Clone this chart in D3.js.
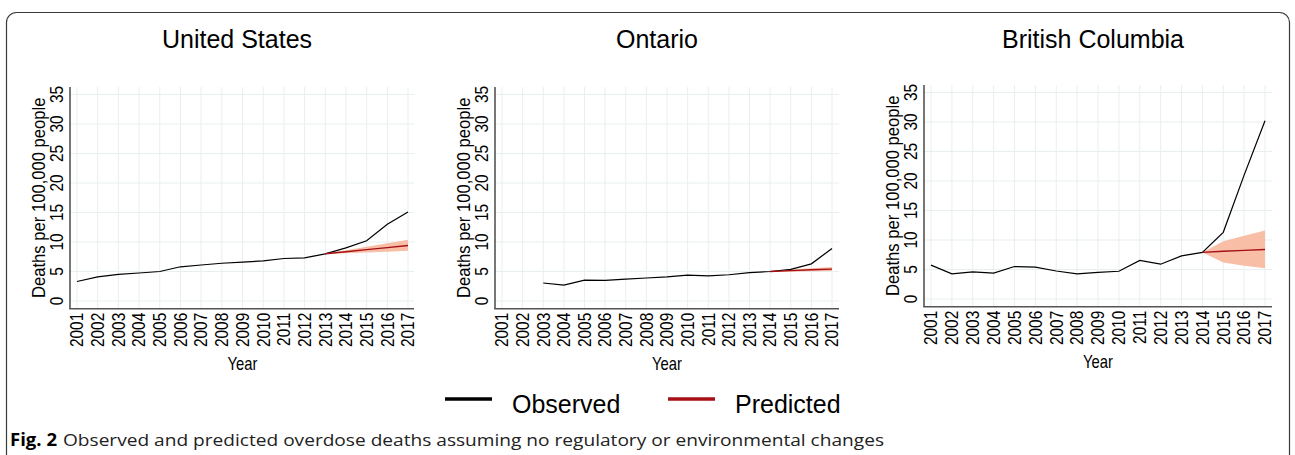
<!DOCTYPE html>
<html>
<head>
<meta charset="utf-8">
<script src="https://cdn.jsdelivr.net/npm/d3@7"></script>
<style>
  body { margin: 0; background: #fff; }
  svg { display: block; }
  text { font-family: "Liberation Sans", Arial, sans-serif; fill: #000; }
</style>
</head>
<body>
<div id="root"></div>
<script>
// data
const years = d3.range(2001, 2018)
const yTicks = [0, 5, 10, 15, 20, 25, 30, 35]

const usObserved = [3.3, 4.1, 4.5, 4.75, 5.0, 5.8, 6.1, 6.4, 6.6, 6.8, 7.2, 7.3, 8.0, 9.0, 10.2, 13.0, 15.1]
const usPredYears = [2013, 2014, 2015, 2016, 2017]
const usPredicted = [8.0, 8.35, 8.7, 9.05, 9.4]
const usUpper = [8.0, 8.6, 9.2, 9.8, 10.4]
const usLower = [8.0, 8.1, 8.2, 8.35, 8.5]

const onYears = d3.range(2003, 2018)
const onObserved = [3.05, 2.7, 3.55, 3.5, 3.7, 3.9, 4.1, 4.4, 4.25, 4.45, 4.8, 5.0, 5.35, 6.3, 8.9]
const onPredYears = [2014, 2015, 2016, 2017]
const onPredicted = [5.0, 5.15, 5.3, 5.4]
const onUpper = [5.0, 5.35, 5.55, 5.75]
const onLower = [5.0, 4.95, 5.05, 5.1]

const bcObserved = [5.75, 4.25, 4.6, 4.4, 5.5, 5.4, 4.75, 4.25, 4.5, 4.7, 6.55, 5.9, 7.3, 7.9, 11.3, 21.0, 30.2]
const bcPredYears = [2014, 2015, 2016, 2017]
const bcPredicted = [7.9, 8.1, 8.25, 8.4]
const bcUpper = [7.9, 9.8, 10.7, 11.6]
const bcLower = [7.9, 6.2, 5.65, 5.2]

const titles = ["United States", "Ontario", "British Columbia"]
const legendLabels = ["Observed", "Predicted"]

const OBS = "#000000"
const PRED = "#a50f15"
const BAND = "#f9bea6"
const GRID = "#e7eff1"
const AXIS = "#555555"

const series = [
  { obsYears: years, obs: usObserved, predYears: usPredYears, pred: usPredicted, hi: usUpper, lo: usLower },
  { obsYears: onYears, obs: onObserved, predYears: onPredYears, pred: onPredicted, hi: onUpper, lo: onLower },
  { obsYears: years, obs: bcObserved, predYears: bcPredYears, pred: bcPredicted, hi: bcUpper, lo: bcLower },
]

// layout per panel
const panels = [
  { axisX: 70, x0: 77, x1: 408, xEnd: 414, y0: 301, y35: 94.5, axisY: 308.7, top: 87, titleX: 237 },
  { axisX: 495, x0: 502, x1: 832, xEnd: 839, y0: 301, y35: 94.5, axisY: 308.7, top: 87, titleX: 657 },
  { axisX: 924, x0: 931, x1: 1265, xEnd: 1272, y0: 299, y35: 92.5, axisY: 306.7, top: 85, titleX: 1093 },
]

const width = 1295
const height = 455

const svg = d3.select("#root").append("svg")
  .attr("width", width)
  .attr("height", height)

// outer frame with rounded corners
svg.append("rect")
  .attr("x", 6.5)
  .attr("y", 12.5)
  .attr("width", 1283)
  .attr("height", 470)
  .attr("rx", 10)
  .attr("fill", "none")
  .attr("stroke", "#3a3a3a")
  .attr("stroke-width", 1.2)

panels.forEach((p, i) => {
  const s = series[i]
  const g = svg.append("g")

  const xScale = d3.scaleLinear().domain([2001, 2017]).range([p.x0, p.x1])
  const yScale = d3.scaleLinear().domain([0, 35]).range([p.y0, p.y35])

  // grid
  g.append("g").selectAll("line")
    .data(years)
    .join("line")
    .attr("x1", d => xScale(d)).attr("x2", d => xScale(d))
    .attr("y1", p.axisY).attr("y2", p.top)
    .attr("stroke", GRID).attr("stroke-width", 1)
  g.append("g").selectAll("line")
    .data(yTicks)
    .join("line")
    .attr("x1", p.axisX).attr("x2", p.xEnd)
    .attr("y1", d => yScale(d)).attr("y2", d => yScale(d))
    .attr("stroke", GRID).attr("stroke-width", 1)

  // confidence band + lines
  const band = d3.area()
    .x((d, j) => xScale(s.predYears[j]))
    .y0((d, j) => yScale(s.lo[j]))
    .y1((d, j) => yScale(s.hi[j]))
  g.append("path")
    .attr("d", band(s.pred))
    .attr("fill", BAND)

  const line = d3.line()
    .x(d => xScale(d[0]))
    .y(d => yScale(d[1]))
  g.append("path")
    .attr("d", line(d3.zip(s.obsYears, s.obs)))
    .attr("fill", "none")
    .attr("stroke", OBS)
    .attr("stroke-width", 1.2)
  g.append("path")
    .attr("d", line(d3.zip(s.predYears, s.pred)))
    .attr("fill", "none")
    .attr("stroke", PRED)
    .attr("stroke-width", 1.4)

  // axes
  g.append("line")
    .attr("x1", p.axisX).attr("x2", p.axisX)
    .attr("y1", p.top).attr("y2", p.axisY)
    .attr("stroke", AXIS).attr("stroke-width", 1.6)
  g.append("line")
    .attr("x1", p.axisX - 0.8).attr("x2", p.xEnd)
    .attr("y1", p.axisY).attr("y2", p.axisY)
    .attr("stroke", AXIS).attr("stroke-width", 1.6)

  // narrow-looking labels: squeeze along the text direction
  g.append("g").selectAll("text")
    .data(yTicks)
    .join("text")
    .attr("transform", d => `translate(${p.axisX - 13},${yScale(d)}) rotate(-90) scale(0.86,1)`)
    .attr("dy", "0.35em")
    .attr("text-anchor", "middle")
    .style("font-size", "18px")
    .text(d => d)

  g.append("g").selectAll("text")
    .data(years)
    .join("text")
    .attr("transform", d => `translate(${xScale(d)},${p.axisY + 4}) rotate(-90) scale(0.86,1)`)
    .attr("dy", "0.35em")
    .attr("text-anchor", "end")
    .style("font-size", "18px")
    .text(d => d)

  g.append("text")
    .attr("transform", `translate(${p.axisX - 31},${(p.y0 + p.y35) / 2}) rotate(-90) scale(0.9,1)`)
    .attr("dy", "0.35em")
    .attr("text-anchor", "middle")
    .style("font-size", "18.5px")
    .text("Deaths per 100,000 people")

  g.append("text")
    .attr("transform", `translate(${(p.x0 + p.x1) / 2},${p.axisY + 61}) scale(0.8,1)`)
    .attr("text-anchor", "middle")
    .style("font-size", "18.5px")
    .text("Year")

  g.append("text")
    .attr("x", p.titleX)
    .attr("y", 48)
    .attr("text-anchor", "middle")
    .style("font-size", "25px")
    .text(titles[i])
})

// legend
const legend = svg.append("g")
const legendItems = [
  { x: 445, color: OBS, label: legendLabels[0] },
  { x: 668, color: PRED, label: legendLabels[1] },
]
legendItems.forEach(d => {
  legend.append("line")
    .attr("x1", d.x).attr("x2", d.x + 47)
    .attr("y1", 399).attr("y2", 399)
    .attr("stroke", d.color).attr("stroke-width", 3.5)
  legend.append("text")
    .attr("x", d.x + 67)
    .attr("y", 413)
    .style("font-size", "25px")
    .text(d.label)
})

// caption
svg.append("text")
  .attr("x", 10)
  .attr("y", 446)
  .style("font-family", "'Open Sans', sans-serif")
  .style("font-weight", "bold")
  .style("font-size", "17px")
  .attr("textLength", 47)
  .attr("lengthAdjust", "spacingAndGlyphs")
  .text("Fig. 2")
svg.append("text")
  .attr("x", 63)
  .attr("y", 446)
  .style("font-family", "'Open Sans', sans-serif")
  .style("font-size", "17px")
  .style("fill", "#222")
  .attr("textLength", 821)
  .attr("lengthAdjust", "spacingAndGlyphs")
  .text("Observed and predicted overdose deaths assuming no regulatory or environmental changes")
</script>
</body>
</html>
